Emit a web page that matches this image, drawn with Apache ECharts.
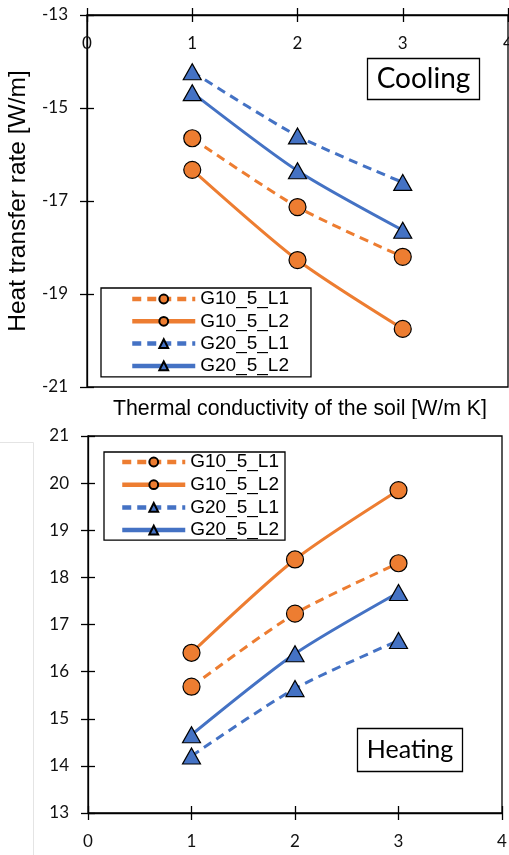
<!DOCTYPE html>
<html>
<head>
<meta charset="utf-8">
<script src="https://cdn.jsdelivr.net/npm/echarts@6/dist/echarts.min.js"></script>
<style>
  html, body { margin: 0; padding: 0; background: #fff; }
  #chart { width: 509px; height: 855px; }
</style>
</head>
<body>
<div id="chart"></div>
<script>
// thermal conductivity of the soil [W/m K]
const kValues = [1, 2, 3];
const seriesNames = ['G10_5_L1', 'G10_5_L2', 'G20_5_L1', 'G20_5_L2'];

// cooling, heat transfer rate [W/m]
const coolG10L1 = [-15.65, -17.13, -18.2];
const coolG10L2 = [-16.33, -18.27, -19.75];
const coolG20L1 = [-14.22, -15.6, -16.6];
const coolG20L2 = [-14.67, -16.35, -17.63];

// heating, heat transfer rate [W/m]
const heatG10L1 = [15.68, 17.23, 18.3];
const heatG10L2 = [16.4, 18.38, 19.85];
const heatG20L1 = [14.21, 15.64, 16.66];
const heatG20L2 = [14.66, 16.38, 17.68];

const orange = '#ED7D31';
const blue = '#4472C4';
const tickFont = 'Lato';
const textFont = 'Liberation Sans';

function pairs(vals) {
  return kValues.map((k, i) => [k, vals[i]]);
}

function makeSeries(name, vals, grid, color, dashed, symbol) {
  return {
    name: name,
    type: 'line',
    xAxisIndex: grid * 2,
    yAxisIndex: grid * 2,
    data: pairs(vals),
    smooth: 0.25,
    symbol: symbol,
    symbolSize: symbol === 'triangle' ? [18, 16] : 17,
    lineStyle: { color: color, width: 3, type: dashed ? [9, 6] : 'solid' },
    itemStyle: { color: color, borderColor: '#000', borderWidth: 1.2 },
    emphasis: { disabled: true },
    z: 3
  };
}

function axesX(grid, pos) {
  const base = {
    type: 'value', gridIndex: grid, position: pos,
    min: 0, max: 4, interval: 1,
    splitLine: { show: false }
  };
  return [
    Object.assign({}, base, {
      axisLine: { show: true, lineStyle: { color: '#000', width: 1.3 } },
      axisTick: { show: true, length: 7, lineStyle: { color: '#000', width: 1.3 } },
      axisLabel: {
        inside: pos === 'top', margin: 20,
        fontFamily: tickFont, fontSize: 17, color: '#111'
      }
    }),
    Object.assign({}, base, {
      axisLine: { show: false },
      axisTick: { show: true, inside: true, length: 7, lineStyle: { color: '#000', width: 1.3 } },
      axisLabel: { show: false }
    })
  ];
}

function axesY(grid, min, max, interval, name) {
  const base = {
    type: 'value', gridIndex: grid, position: 'left',
    min: min, max: max, interval: interval,
    splitLine: { show: false }
  };
  return [
    Object.assign({}, base, {
      name: name,
      nameLocation: 'middle',
      nameGap: 54,
      nameTextStyle: { fontFamily: textFont, fontSize: 24.5, color: '#000' },
      axisLine: { show: true, lineStyle: { color: '#000', width: 1.3 } },
      axisTick: { show: true, length: 7, lineStyle: { color: '#000', width: 1.3 } },
      axisLabel: { margin: 19, fontFamily: tickFont, fontSize: 17, color: '#111' }
    }),
    Object.assign({}, base, {
      axisLine: { show: false },
      axisTick: { show: true, inside: true, length: 7, lineStyle: { color: '#000', width: 1.3 } },
      axisLabel: { show: false }
    })
  ];
}

const legendBase = {
  data: seriesNames,
  orient: 'vertical',
  itemWidth: 63,
  itemHeight: 11,
  borderColor: '#000',
  borderWidth: 1.3,
  borderRadius: 0,
  selectedMode: false,
  lineStyle: { width: 4.5 },
  textStyle: { fontFamily: textFont, fontSize: 19, color: '#000', lineHeight: 20 }
};

const chart = echarts.init(document.getElementById('chart'));
chart.setOption({
  animation: false,
  backgroundColor: '#fff',
  grid: [
    { left: 87, top: 15, width: 421, height: 372, outerBoundsMode: 'none', containLabel: false,
      show: true, borderColor: '#000', borderWidth: 1.3 },
    { left: 88, top: 436, width: 414, height: 377, outerBoundsMode: 'none', containLabel: false,
      show: true, borderColor: '#000', borderWidth: 1.3 }
  ],
  xAxis: [].concat(axesX(0, 'top'), axesX(1, 'bottom')),
  yAxis: [].concat(axesY(0, -21, -13, 2, 'Heat transfer rate [W/m]'), axesY(1, 13, 21, 1, '')),
  legend: [
    Object.assign({}, legendBase, { left: 101, top: 288, itemGap: 2.3, padding: [1, 22, 1, 29] }),
    Object.assign({}, legendBase, { left: 104, top: 452, itemGap: 2.7, padding: [0, 6, 0, 16] })
  ],
  series: [
    makeSeries(seriesNames[0], coolG10L1, 0, orange, true, 'circle'),
    makeSeries(seriesNames[1], coolG10L2, 0, orange, false, 'circle'),
    makeSeries(seriesNames[2], coolG20L1, 0, blue, true, 'triangle'),
    makeSeries(seriesNames[3], coolG20L2, 0, blue, false, 'triangle'),
    makeSeries(seriesNames[0], heatG10L1, 1, orange, true, 'circle'),
    makeSeries(seriesNames[1], heatG10L2, 1, orange, false, 'circle'),
    makeSeries(seriesNames[2], heatG20L1, 1, blue, true, 'triangle'),
    makeSeries(seriesNames[3], heatG20L2, 1, blue, false, 'triangle')
  ],
  graphic: [
    {
      type: 'text', left: 113, top: 399, z: 1,
      style: { text: 'Thermal conductivity of the soil [W/m K]', font: '21.3px "Liberation Sans"', fill: '#000' }
    },
    { type: 'rect', shape: { x: 0, y: 419, width: 509, height: 9 }, style: { fill: '#fff' }, z: 2 },
    { type: 'line', shape: { x1: 0, y1: 442.5, x2: 33.5, y2: 442.5 }, style: { stroke: '#e4e4e4', lineWidth: 1 } },
    { type: 'line', shape: { x1: 33.5, y1: 442.5, x2: 33.5, y2: 855 }, style: { stroke: '#e4e4e4', lineWidth: 1 } },
    { type: 'rect', shape: { x: 367.5, y: 58.5, width: 112, height: 41 }, style: { fill: '#fff', stroke: '#000', lineWidth: 1.3 }, z: 5 },
    {
      type: 'text', x: 423.5, y: 79, z: 6,
      style: { text: 'Cooling', font: '28px Lato', fill: '#000', align: 'center', verticalAlign: 'middle' }
    },
    { type: 'rect', shape: { x: 357.5, y: 728.5, width: 105, height: 43 }, style: { fill: '#fff', stroke: '#000', lineWidth: 1.3 }, z: 5 },
    {
      type: 'text', x: 410, y: 750, z: 6,
      style: { text: 'Heating', font: '25px Lato', fill: '#000', align: 'center', verticalAlign: 'middle' }
    }
  ]
});
</script>
</body>
</html>
